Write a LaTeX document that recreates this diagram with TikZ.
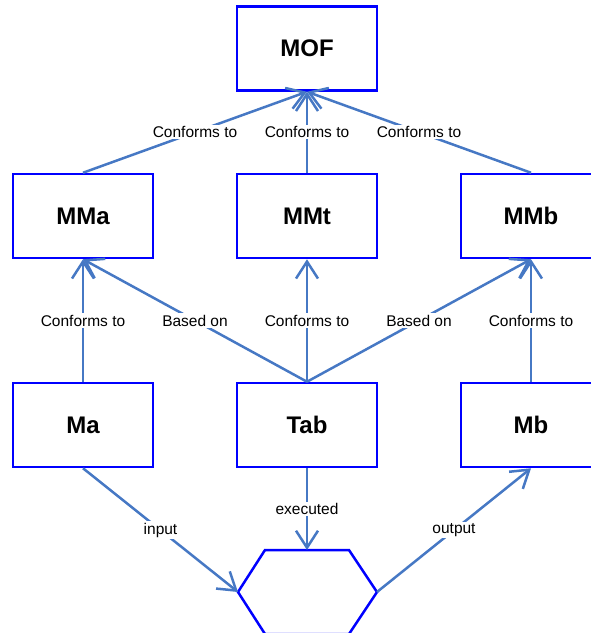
\documentclass[tikz,border=0pt]{standalone}
\usepackage{fontspec}
\setmainfont{Liberation Sans}
\usetikzlibrary{arrows.meta}
\definecolor{boxblue}{RGB}{0,0,255}
\definecolor{linkblue}{RGB}{70,120,196}

\begin{document}
\begin{tikzpicture}[x=1pt, y=-1pt,
  model/.style={draw=boxblue, line width=2.5pt, minimum width=140pt, minimum height=84pt, font=\fontsize{24}{28}\selectfont\bfseries},
  link/.style={draw=linkblue, line width=2.5pt, -{Straight Barb[length=17pt,width=22pt]}},
  tag/.style={fill=white, inner sep=1.5pt, font=\fontsize{15.5}{18}\selectfont}]

\path[use as bounding box, clip] (0,0) rectangle (591,633);

\node[model] (MOF) at (307,48.5) {MOF};

% metamodels and models
\foreach \n/\x in {MMa/83, MMt/307, MMb/531}
  \node[model] (\n) at (\x,216) {\n};
\foreach \n/\x in {Ma/83, Tab/307, Mb/531}
  \node[model] (\n) at (\x,425) {\n};

% transformation engine
\coordinate (hexT) at (307,550);
\coordinate (hexL) at (238,592);
\coordinate (hexR) at (377,592);
\draw[boxblue, line width=2.5pt] (265,550) -- (349,550) -- (hexR) -- (349,634)
  -- (265,634) -- (hexL) -- cycle;

\foreach \n in {MMa, MMt, MMb}
  \draw[link] (\n.north) -- node[tag] {Conforms to} (MOF.south);

\draw[link] (Ma.north) -- node[tag] {Conforms to} (MMa.south);
\draw[link] (Tab.north) -- node[tag] {Based on} (MMa.south);
\draw[link] (Tab.north) -- node[tag] {Conforms to} (MMt.south);
\draw[link] (Tab.north) -- node[tag] {Based on} (MMb.south);
\draw[link] (Mb.north) -- node[tag] {Conforms to} (MMb.south);

\draw[link] (Ma.south) -- node[tag] {input} (hexL);
\draw[link] (Tab.south) -- node[tag] {executed} (hexT);
\draw[link] (hexR) -- node[tag] {output} (Mb.south);

\end{tikzpicture}
\end{document}
